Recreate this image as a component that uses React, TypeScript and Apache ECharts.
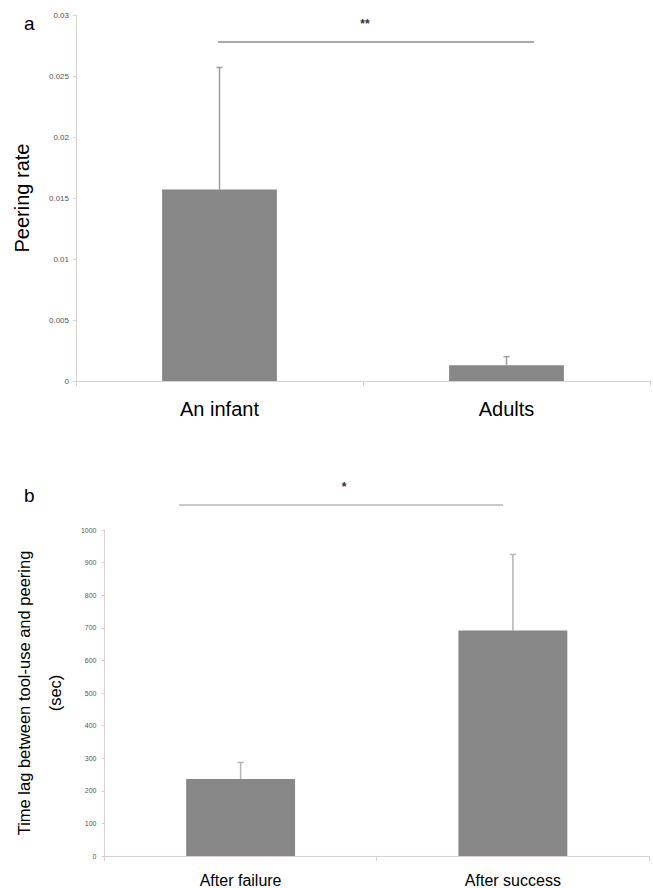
import React, { useEffect, useRef } from "react";
import * as echarts from "echarts";

// Panel a
const groupsA = ["An infant", "Adults"];
const peeringRate = [0.0157, 0.0013];
const peeringRateErr = [0.01, 0.0007];
const ticksA = { min: 0, max: 0.03, interval: 0.005 };

// Panel b
const groupsB = ["After failure", "After success"];
const timeLag = [236, 692];
const timeLagErr = [51, 233];
const ticksB = { min: 0, max: 1000, interval: 100 };

const FONT = "'Liberation Sans', Arial, sans-serif";
const BAR = "#878787";
const AXIS = "#d9d1cd";

function errorRender(color: string) {
  return (params: any, api: any) => {
    const x = api.value(0);
    const lo = api.coord([x, api.value(1)]);
    const hi = api.coord([x, api.value(2)]);
    return {
      type: "group",
      children: [
        { type: "line", shape: { x1: lo[0], y1: lo[1], x2: hi[0], y2: hi[1] }, style: { stroke: color, lineWidth: 1.5 } },
        { type: "line", shape: { x1: hi[0] - 3, y1: hi[1], x2: hi[0] + 3, y2: hi[1] }, style: { stroke: color, lineWidth: 1.5 } },
      ],
    };
  };
}

export default function App() {
  const ref = useRef<HTMLDivElement>(null);
  useEffect(() => {
    const chart = echarts.init(ref.current!, null, { renderer: "svg" });
    const yAxisCommon = {
      type: "value",
      axisLine: { show: true, lineStyle: { color: AXIS, width: 1 } },
      axisTick: { show: true, length: 3, lineStyle: { color: AXIS } },
      splitLine: { show: false },
    };
    const xAxisCommon = {
      type: "category",
      axisLine: { show: true, lineStyle: { color: AXIS, width: 1 } },
      axisTick: { show: true, length: 5, lineStyle: { color: AXIS } },
    };
    chart.setOption({
      animation: false,
      grid: [
        { left: 76, top: 15, width: 574, height: 366 },
        { left: 91, top: 530, width: 558, height: 328 },
      ],
      xAxis: [
        { ...xAxisCommon, gridIndex: 0, data: groupsA, axisLabel: { fontFamily: FONT, fontSize: 20, color: "#000", margin: 18 } },
        { ...xAxisCommon, gridIndex: 1, data: groupsB, axisLabel: { fontFamily: FONT, fontSize: 16, color: "#000", margin: 16 } },
      ],
      yAxis: [
        {
          ...yAxisCommon,
          gridIndex: 0,
          ...ticksA,
          axisLabel: { fontFamily: FONT, color: "#555", fontSize: 8, margin: 7, formatter: (v: number) => String(+v.toFixed(4)) },
          name: "Peering rate",
          nameLocation: "middle",
          nameGap: 44,
          nameTextStyle: { fontFamily: FONT, fontSize: 20, color: "#000" },
        },
        {
          ...yAxisCommon,
          gridIndex: 1,
          ...ticksB,
          axisLabel: { fontFamily: FONT, color: "#555", fontSize: 7, margin: 8, formatter: (v: number) => String(Math.round(v)) },
          name: "Time lag between tool-use and peering\n(sec)",
          nameLocation: "middle",
          nameGap: 31,
          nameTextStyle: { fontFamily: FONT, fontSize: 16.5, color: "#000", lineHeight: 31 },
        },
      ],
      series: [
        { type: "bar", xAxisIndex: 0, yAxisIndex: 0, data: peeringRate, barWidth: "40%", itemStyle: { color: BAR } },
        { type: "bar", xAxisIndex: 1, yAxisIndex: 1, data: timeLag, barWidth: "40%", itemStyle: { color: BAR } },
        {
          type: "custom",
          xAxisIndex: 0,
          yAxisIndex: 0,
          renderItem: errorRender("#a09a98"),
          encode: { x: 0, y: [1, 2] },
          data: peeringRate.map((v, i) => [i, v, v + peeringRateErr[i]]),
        },
        {
          type: "custom",
          xAxisIndex: 1,
          yAxisIndex: 1,
          renderItem: errorRender("#b5b5b5"),
          encode: { x: 0, y: [1, 2] },
          data: timeLag.map((v, i) => [i, v, v + timeLagErr[i]]),
        },
      ],
      graphic: [
        { type: "text", left: 24, top: 14, style: { text: "a", font: `19px ${FONT}`, fill: "#000" } },
        { type: "text", left: 24, top: 486, style: { text: "b", font: `19px ${FONT}`, fill: "#000" } },
        { type: "line", shape: { x1: 218, y1: 42, x2: 534, y2: 42 }, style: { stroke: "#8c8c8c", lineWidth: 1.5 } },
        { type: "text", x: 365, y: 24, style: { text: "**", font: `bold 12px ${FONT}`, fill: "#333", align: "center", verticalAlign: "middle" } },
        { type: "line", shape: { x1: 179, y1: 505, x2: 503, y2: 505 }, style: { stroke: "#c9c9c9", lineWidth: 2 } },
        { type: "text", x: 344, y: 487, style: { text: "*", font: `bold 12px ${FONT}`, fill: "#333", align: "center", verticalAlign: "middle" } },
      ],
    });
    return () => chart.dispose();
  }, []);
  return <div ref={ref} style={{ position: "fixed", left: 0, top: 0, width: 653, height: 888, background: "#fff" }} />;
}
